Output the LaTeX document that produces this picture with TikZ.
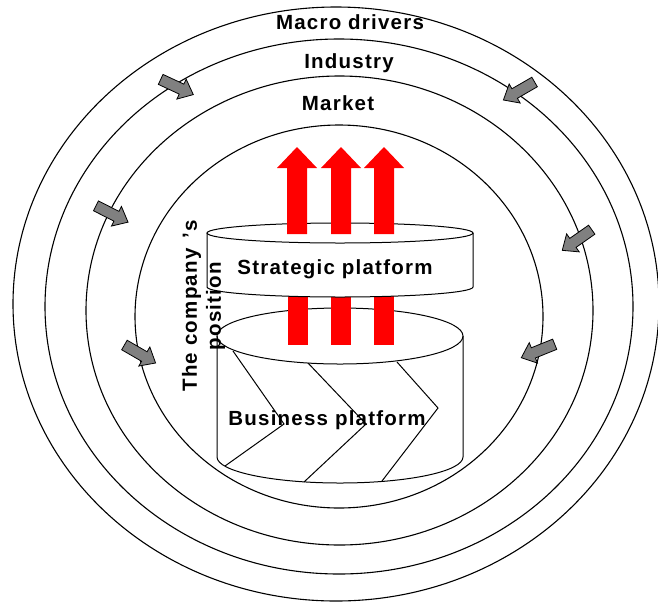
\documentclass[tikz,border=0pt]{standalone}
\usepackage{fontspec}
\newfontfamily\lblfont{Liberation Sans}[LetterSpace=6]
\begin{document}
\begin{tikzpicture}[x=1pt,y=-1pt,
  ring/.style={line width=1.1pt},
  lbl/.style={font=\lblfont\bfseries\fontsize{20.5}{24}\selectfont, inner sep=0pt},
  cyl/.style={line width=1pt},
  redar/.style={fill=red, draw=none},
  grayar/.style={fill=gray, draw=black, line width=0.8pt, line join=miter}]
\useasboundingbox (0,0) rectangle (658,603);
\fill[white] (0,0) rectangle (658,603);
% rings
\draw[ring] (336,304) ellipse [x radius=323pt, y radius=297pt];
\draw[ring] (339,306.5) ellipse [x radius=294pt, y radius=267.5pt];
\draw[ring] (339.5,310.5) ellipse [x radius=253.5pt, y radius=234.5pt];
\draw[ring] (339,316.5) ellipse [x radius=204pt, y radius=191.5pt];
% ring labels
\node[lbl, anchor=base] (macro) at (350,29) {Macro drivers};
\node[lbl, anchor=base] (industry) at (349,68) {Industry};
\node[lbl, anchor=base] (market) at (338,110) {Market};
% business platform cylinder
\fill[white] (217,336) rectangle (463,457);
\fill[white] (340,457) ellipse [x radius=123pt, y radius=26pt];
\draw[cyl] (217,336) -- (217,457) arc[start angle=180, end angle=360, x radius=123pt, y radius=26pt] -- (463,336);
\draw[cyl] (340,336) ellipse [x radius=123pt, y radius=28pt];
\draw[cyl] (233,351) -- (284,424) -- (225,466);
\draw[cyl] (308,363) -- (366,424) -- (304,482);
\draw[cyl] (397,362) -- (438,408) -- (382,481);
% lower red bars
\foreach \c in {298,341,384}
  \fill[red] (\c-10,345) rectangle (\c+10,280);
% strategic platform cylinder
\fill[white] (207,233) rectangle (473,287);
\fill[white] (340,287) ellipse [x radius=133pt, y radius=10pt];
\draw[cyl] (207,233) -- (207,287) arc[start angle=180, end angle=360, x radius=133pt, y radius=10pt] -- (473,233);
\draw[cyl] (340,233) ellipse [x radius=133pt, y radius=10pt];
% upper red arrows
\foreach \c in {297,341,384}
  \fill[red] (\c-10,234) -- (\c-10,168) -- (\c-20,168) -- (\c,147) -- (\c+20,168) -- (\c+10,168) -- (\c+10,234) -- cycle;
% platform labels
\node[lbl, anchor=base] (strat) at (335,274) {Strategic platform};
\node[lbl, anchor=base] (bus) at (327,425) {Business platform};
\node[lbl, rotate=90, align=center] (pos) at (203.5,306) {The company \,’s\\position};
% gray arrows
\foreach \x/\y/\a in {177/87/-25, 519/91/210, 112/214/-27, 140/354/-30, 577/240/215, 538/351/202}
  \draw[grayar, shift={(\x,\y)}, rotate=\a] (-18,-5.5) -- (5,-5.5) -- (5,-11) -- (18,0) -- (5,11) -- (5,5.5) -- (-18,5.5) -- cycle;
\end{tikzpicture}
\end{document}
